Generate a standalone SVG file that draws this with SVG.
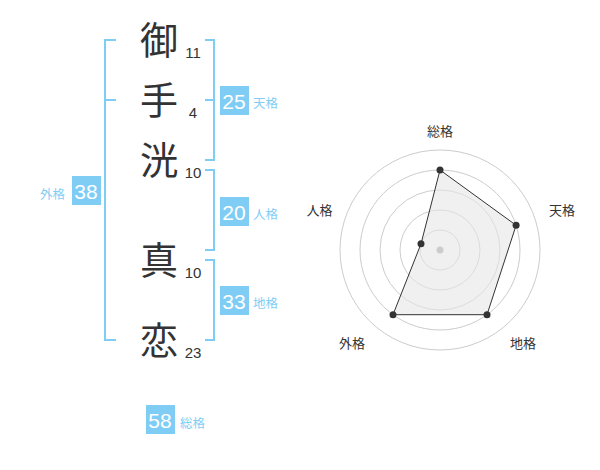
<svg xmlns="http://www.w3.org/2000/svg" width="600" height="470" viewBox="0 0 600 470">
<style>
.kanji{font-family:"Noto Sans CJK JP","Noto Sans CJK SC",sans-serif;font-size:38px;fill:#333;text-anchor:middle}
.stroke{font-family:"Liberation Sans",Arial,sans-serif;font-size:15px;fill:#333;text-anchor:middle}
.box{fill:#7fcdf5}
.num{font-family:"Liberation Sans",Arial,sans-serif;font-size:21px;fill:#fff;text-anchor:middle}
.lbl{font-family:"Noto Sans CJK JP","Noto Sans CJK SC",sans-serif;font-size:12.5px;fill:#7fcdf5}
.br{fill:none;stroke:#7fcdf5;stroke-width:2}
.ring{fill:none;stroke:#cccccc;stroke-width:1}
.rlbl{font-family:"Noto Sans CJK JP","Noto Sans CJK SC",sans-serif;font-size:13px;fill:#333;text-anchor:middle}
.pt{fill:#333}
</style>
<rect width="600" height="470" fill="#fff"/>
<g id="connectors">
<path class="br" d="M116,40 H105 V340 H116 M105,100 H116"/>
<path class="br" d="M205,40 H214 V160 H205 M205,100 H214"/>
<path class="br" d="M205,170 H214 V250 H205"/>
<path class="br" d="M205,260 H214 V340 H205"/>
</g>
<g id="char1"><text class="kanji" x="159" y="54">御</text><text class="stroke" x="193" y="57.5">11</text></g>
<g id="char2"><text class="kanji" x="159" y="114">手</text><text class="stroke" x="193" y="117.5">4</text></g>
<g id="char3"><text class="kanji" x="159" y="174">洸</text><text class="stroke" x="193" y="177.5">10</text></g>
<g id="char4"><text class="kanji" x="159" y="274">真</text><text class="stroke" x="193" y="277.5">10</text></g>
<g id="char5"><text class="kanji" x="159" y="354">恋</text><text class="stroke" x="193" y="358">23</text></g>
<g id="tenkaku"><rect class="box" x="220" y="86" width="29" height="29"/><text class="num" x="234" y="109">25</text><text class="lbl" x="253" y="107.5">天格</text></g>
<g id="jinkaku"><rect class="box" x="220" y="197" width="29" height="29"/><text class="num" x="234" y="220">20</text><text class="lbl" x="253" y="218.5">人格</text></g>
<g id="chikaku"><rect class="box" x="220" y="286" width="29" height="29"/><text class="num" x="234" y="309">33</text><text class="lbl" x="253" y="307.5">地格</text></g>
<g id="gaikaku"><rect class="box" x="72" y="176" width="29" height="29"/><text class="num" x="86" y="199">38</text><text class="lbl" x="40" y="198.5">外格</text></g>
<g id="soukaku"><rect class="box" x="146" y="405" width="29" height="29"/><text class="num" x="160" y="428">58</text><text class="lbl" x="180" y="427.5">総格</text></g>
<g id="radar">
<circle class="ring" cx="440" cy="250" r="20"/>
<circle class="ring" cx="440" cy="250" r="40"/>
<circle class="ring" cx="440" cy="250" r="60"/>
<circle class="ring" cx="440" cy="250" r="80"/>
<circle class="ring" cx="440" cy="250" r="100"/>
<polygon points="440,170 516.1,225.3 487,314.7 393,314.7 421,243.8" fill="#e6e6e6" fill-opacity="0.6" stroke="#333" stroke-width="1"/>
<circle cx="440" cy="250" r="3.5" fill="#cccccc"/>
<circle class="pt" cx="440" cy="170" r="3.5"/>
<circle class="pt" cx="516.1" cy="225.3" r="3.5"/>
<circle class="pt" cx="487" cy="314.7" r="3.5"/>
<circle class="pt" cx="393" cy="314.7" r="3.5"/>
<circle class="pt" cx="421" cy="243.8" r="3.5"/>
<text class="rlbl" x="440" y="136">総格</text>
<text class="rlbl" x="562" y="214.5">天格</text>
<text class="rlbl" x="523" y="347.5">地格</text>
<text class="rlbl" x="352" y="347.5">外格</text>
<text class="rlbl" x="319.5" y="214.5">人格</text>
</g>
</svg>
